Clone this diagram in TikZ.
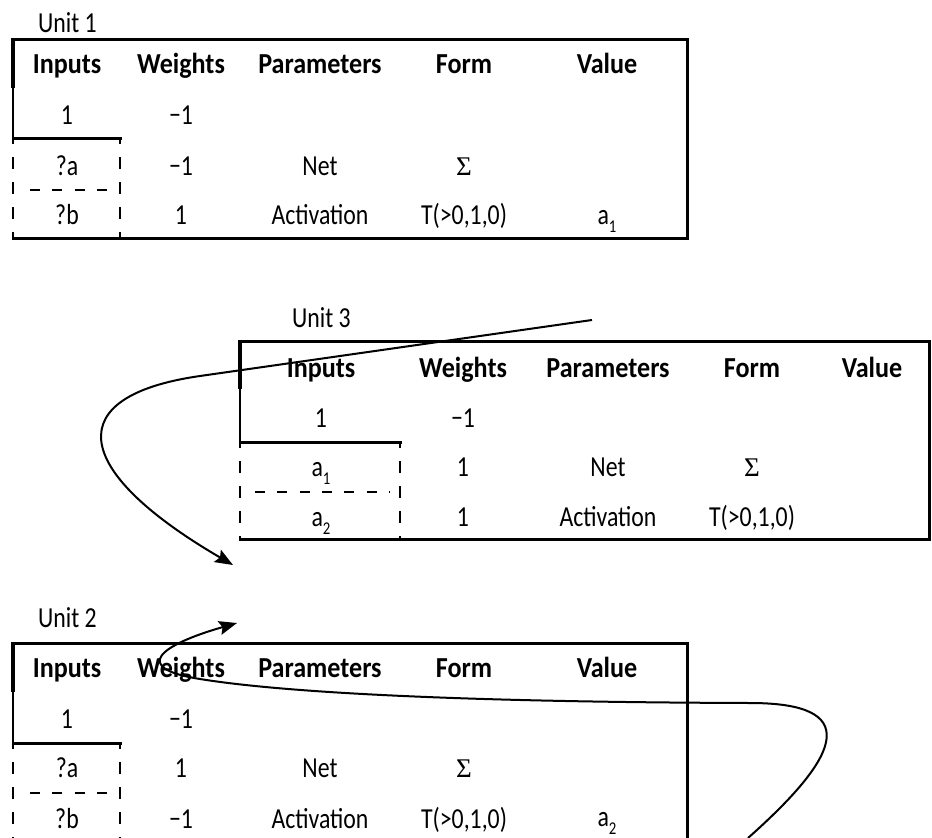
\documentclass[tikz,border=0pt]{standalone}
\usepackage{fontspec}
\setmainfont{Carlito}[UprightFeatures={FakeStretch=0.82}, BoldFeatures={FakeStretch=0.9}]
\newfontfamily\symfont{Liberation Serif}
\usetikzlibrary{arrows.meta}
\newcommand\subnum[1]{\raisebox{-8pt}{\fontsize{18}{18}\selectfont #1}}
\begin{document}
\begin{tikzpicture}[x=1pt,y=-1pt,
  hd/.style={font=\fontsize{29}{31}\selectfont\bfseries, anchor=base, inner sep=0pt},
  tx/.style={font=\fontsize{29}{31}\selectfont, anchor=base, inner sep=0pt},
  sg/.style={font=\symfont\fontsize{27}{30}\selectfont, anchor=base, inner sep=0pt},
  lbl/.style={font=\fontsize{29}{31}\selectfont, anchor=base west, inner sep=0pt},
  frame/.style={line width=3pt, line cap=rect},
  thickleft/.style={line width=3.6pt},
  thinleft/.style={line width=2.2pt},
  vdash/.style={line width=2.5pt, dash pattern=on 12pt off 13pt, dash phase=6pt},
  hdash/.style={line width=2.5pt, dash pattern=on 10pt off 12.3pt},
  conn/.style={line width=2pt, -{Stealth[length=18pt,width=14pt,inset=3pt]}}]
\useasboundingbox (0,0) rectangle (932,838);
\clip (0,0) rectangle (932,838);

% ---------------- Unit 1 ----------------
\node[lbl] (u1) at (38,32) {Unit 1};
\draw[frame] (13,39) -- (687,39) -- (687,238) -- (13,238);
\draw[thickleft] (13,38) -- (13,88);
\draw[thinleft] (13,88) -- (13,138);
\draw[frame] (13,138) -- (120,138);
\draw[vdash] (13,138) -- (13,238);
\draw[vdash] (120,138) -- (120,238);
\draw[hdash] (30,190) -- (108,190);
\node[hd] (u1h1) at (67,73) {Inputs};
\node[hd] (u1h2) at (181,73) {Weights};
\node[hd] (u1h3) at (320,73) {Parameters};
\node[hd] (u1h4) at (464,73) {Form};
\node[hd] (u1h5) at (607,73) {Value};
\node[tx] (u1a1) at (67,124) {1};
\node[tx] (u1a2) at (181,124) {−1};
\node[tx] (u1b1) at (67,175) {?a};
\node[tx] (u1b2) at (181,175) {−1};
\node[tx] (u1b3) at (320,175) {Net};
\node[sg] (u1b4) at (464,175) {Σ};
\node[tx] (u1c1) at (67,224) {?b};
\node[tx] (u1c2) at (181,224) {1};
\node[tx] (u1c3) at (320,224) {Activation};
\node[tx] (u1c4) at (464,224) {T(>0,1,0)};
\node[tx] (u1c5) at (607,224) {a\subnum{1}};

% ---------------- Unit 3 ----------------
\node[lbl] (u3) at (292,327) {Unit 3};
\draw[frame] (240,341) -- (929,341) -- (929,539) -- (240,539);
\draw[thickleft] (240,340) -- (240,389);
\draw[thinleft] (240,389) -- (240,442);
\draw[frame] (240,442) -- (400,442);
\draw[vdash] (240,442) -- (240,539);
\draw[vdash] (400,442) -- (400,539);
\draw[hdash] (255,492) -- (390,492);
\node[hd] (u3h1) at (321,377) {Inputs};
\node[hd] (u3h2) at (463,377) {Weights};
\node[hd] (u3h3) at (608,377) {Parameters};
\node[hd] (u3h4) at (752,377) {Form};
\node[hd] (u3h5) at (872,377) {Value};
\node[tx] (u3a1) at (321,427) {1};
\node[tx] (u3a2) at (463,427) {−1};
\node[tx] (u3b1) at (321,476) {a\subnum{1}};
\node[tx] (u3b2) at (463,476) {1};
\node[tx] (u3b3) at (608,476) {Net};
\node[sg] (u3b4) at (752,476) {Σ};
\node[tx] (u3c1) at (321,526) {a\subnum{2}};
\node[tx] (u3c2) at (463,526) {1};
\node[tx] (u3c3) at (608,526) {Activation};
\node[tx] (u3c4) at (752,526) {T(>0,1,0)};

% ---------------- Unit 2 ----------------
\node[lbl] (u2) at (38,627) {Unit 2};
\draw[frame] (13,643) -- (687,643) -- (687,845);
\draw[thickleft] (13,642) -- (13,692);
\draw[thinleft] (13,692) -- (13,743);
\draw[frame] (13,743) -- (120,743);
\draw[vdash] (13,743) -- (13,845);
\draw[vdash] (120,743) -- (120,845);
\draw[hdash] (30,793) -- (108,793);
\node[hd] (u2h1) at (67,677) {Inputs};
\node[hd] (u2h2) at (181,677) {Weights};
\node[hd] (u2h3) at (320,677) {Parameters};
\node[hd] (u2h4) at (464,677) {Form};
\node[hd] (u2h5) at (607,677) {Value};
\node[tx] (u2a1) at (67,728) {1};
\node[tx] (u2a2) at (181,728) {−1};
\node[tx] (u2b1) at (67,777) {?a};
\node[tx] (u2b2) at (181,777) {1};
\node[tx] (u2b3) at (320,777) {Net};
\node[sg] (u2b4) at (464,777) {Σ};
\node[tx] (u2c1) at (67,828) {?b};
\node[tx] (u2c2) at (181,828) {−1};
\node[tx] (u2c3) at (320,828) {Activation};
\node[tx] (u2c4) at (464,828) {T(>0,1,0)};
\node[tx] (u2c5) at (607,826) {a\subnum{2}};

% ---------------- connectors ----------------
\coordinate (cA0) at (592,320);
\coordinate (cA1) at (200,376);
\coordinate (cA2) at (233,565);
\draw[conn] (cA0) -- (cA1) .. controls (60,396) and (70,470) .. (cA2);

\coordinate (cB0) at (748,838);
\coordinate (cB1) at (750,703);
\coordinate (cB2) at (200,679);
\coordinate (cB3) at (237,623);
\draw[conn] (cB0) .. controls (845,752) and (860,703) .. (cB1)
  .. controls (450,702) and (280,692) .. (cB2)
  .. controls (130,668) and (160,645) .. (cB3);
\end{tikzpicture}
\end{document}
